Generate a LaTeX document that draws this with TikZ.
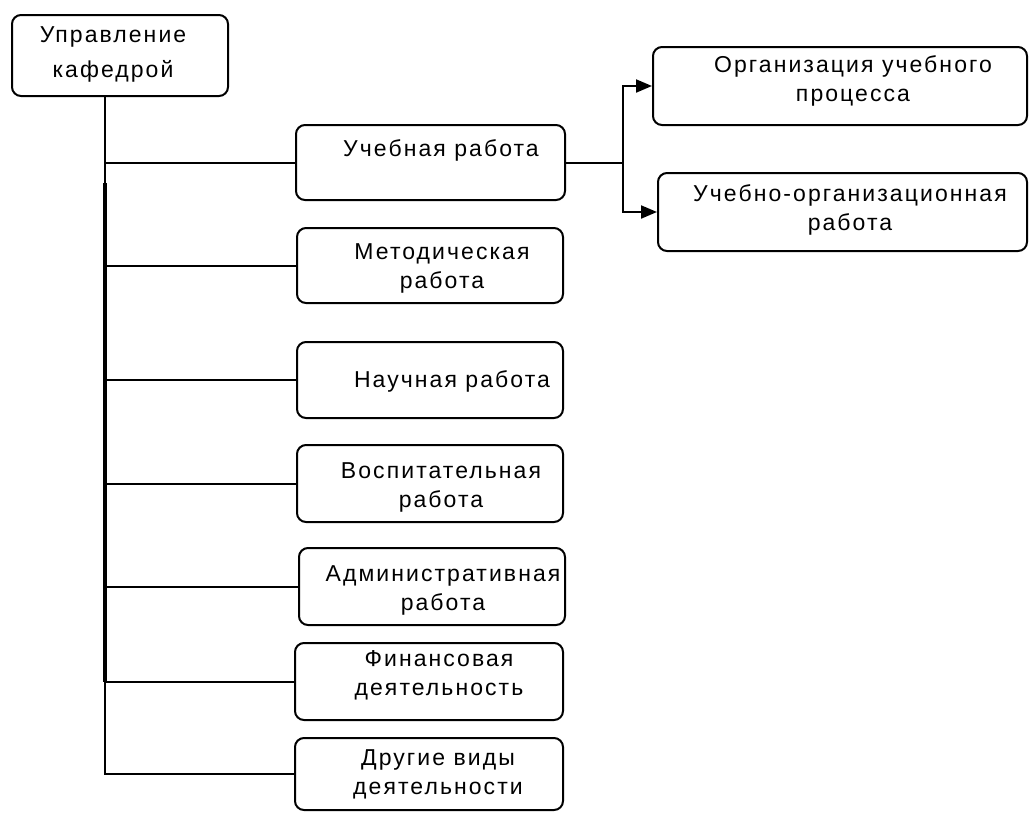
\documentclass[tikz,border=0pt]{standalone}
\usepackage{fontspec}
\setmainfont[LetterSpace=9]{Liberation Sans}
\usetikzlibrary{arrows.meta}
\begin{document}
\begin{tikzpicture}[x=1pt,y=-1pt,
  box/.style={draw=black, line width=2pt, rounded corners=9pt, inner sep=0pt},
  txt/.style={align=center, inner sep=0pt, font=\fontsize{23}{29}\selectfont},
  link/.style={draw=black, line width=2pt},
  arr/.style={link, -{Triangle[length=16pt,width=13pt]}}]
\useasboundingbox (0,0) rectangle (1029,812);
\fill[white] (0,0) rectangle (1029,812);

% boxes: centre, width, height
\node[box, minimum width=216pt, minimum height=81pt] (top) at (120,55.5) {};
\node[box, minimum width=269pt, minimum height=75pt] (b1) at (430.5,162.5) {};
\node[box, minimum width=266pt, minimum height=75pt] (b2) at (430,265.5) {};
\node[box, minimum width=266pt, minimum height=76pt] (b3) at (430,380) {};
\node[box, minimum width=266pt, minimum height=77pt] (b4) at (430,483.5) {};
\node[box, minimum width=266pt, minimum height=77pt] (b5) at (432,586.5) {};
\node[box, minimum width=268pt, minimum height=77pt] (b6) at (429,681.5) {};
\node[box, minimum width=268pt, minimum height=72pt] (b7) at (429,774) {};
\node[box, minimum width=374pt, minimum height=78pt] (r1) at (840,86) {};
\node[box, minimum width=369pt, minimum height=78pt] (r2) at (842.5,212) {};

% labels
\node[txt, font=\fontsize{23}{35}\selectfont] (t0) at (113,54) {Управление\\кафедрой};
\node[txt] (t1) at (441,150) {Учебная работа};
\node[txt] (t2) at (442,268) {Методическая\\работа};
\node[txt] (t3) at (452,381) {Научная работа};
\node[txt] (t4) at (441,487) {Воспитательная\\работа};
\node[txt] (t5) at (443,590) {Административная\\работа};
\node[txt] (t6) at (439,675) {Финансовая\\деятельность};
\node[txt] (t7) at (438,774) {Другие виды\\деятельности};
\node[txt] (t8) at (853,81) {Организация учебного\\процесса};
\node[txt] (t9) at (850,210) {Учебно-организационная\\работа};

% spine and branches
\coordinate (sp) at (105,0);
\coordinate (fork) at (623,0);
\draw[link] (top.south -| sp) -- (sp |- b7.west) -- (b7.west);
\draw[line width=3.6pt] (sp |- 0,183) -- (sp |- b6.west);
\foreach \b in {b1,b2,b3,b4,b5,b6}
  \draw[link] (sp |- \b.west) -- (\b.west);

% sub-branches with arrows
\draw[link] (b1.east) -- (fork |- b1.east);
\draw[arr] (fork |- b1.east) -- (fork |- r1.west) -- (r1.west);
\draw[arr] (fork |- b1.east) -- (fork |- r2.west) -- (r2.west);
\end{tikzpicture}
\end{document}
